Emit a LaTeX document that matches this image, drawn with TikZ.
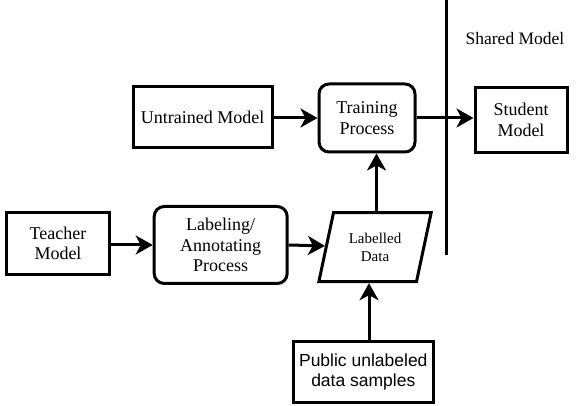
\documentclass[tikz,border=0pt]{standalone}
\usepackage{fontspec}
\setmainfont{Liberation Serif}
\newfontfamily\arialfont{Liberation Sans}
\usetikzlibrary{shapes.geometric,arrows.meta}
\begin{document}
\begin{tikzpicture}[x=1pt,y=-1pt,
  box/.style={draw,line width=3pt,inner sep=0pt,align=center,font=\fontsize{18}{20.5}\selectfont},
  sqbox/.style={box},
  rbox/.style={box,rounded corners=10pt},
  arr/.style={line width=3pt,-{Stealth[length=17pt,width=19pt,inset=5pt]}}
]
\useasboundingbox (0,0) rectangle (582,406);
\node[sqbox,minimum width=139pt,minimum height=61pt] (um) at (202.7,117) {Untrained Model};
\node[rbox,minimum width=96pt,minimum height=68pt] (tp) at (367,118) {Training\\Process};
\node[sqbox,minimum width=92pt,minimum height=65pt] (sm) at (521,119.8) {Student\\Model};
\node[sqbox,minimum width=103pt,minimum height=62pt] (tm) at (58,243.3) {Teacher\\Model};
\node[rbox,minimum width=133pt,minimum height=77pt] (lp) at (220.7,245) {Labeling/\\Annotating\\Process};
\node[draw,line width=3pt,trapezium,trapezium stretches=true,trapezium left angle=72,trapezium right angle=108,
  minimum width=113pt,minimum height=69pt,inner sep=0pt,align=center,font=\fontsize{15}{18}\selectfont] (ld) at (375,247.2) {Labelled\\Data};
\node[sqbox,minimum width=140pt,minimum height=61pt,font=\arialfont\fontsize{17.5}{20}\selectfont] (pu) at (363.3,372.2) {Public unlabeled\\data samples};
\node[font=\fontsize{17.5}{20}\selectfont] (sh) at (515,39) {Shared Model};
\coordinate (vt) at (446,0);
\coordinate (vb) at (446,255);
\draw[line width=3pt] (vt) -- (vb);
\draw[arr] (um.east |- tp.west) -- (tp.west);
\draw[arr] (tp.east) -- (tp.east -| sm.west);
\draw[arr] (tm.east |- lp.west) -- (lp.west);
\draw[arr] (lp.east) -- (ld);
\draw[arr] ([xshift=1.5pt]ld.north) -- ([xshift=1.5pt]ld.north |- tp.south);
\draw[arr] ([xshift=-6pt]ld.south |- pu.north) -- ([xshift=-6pt]ld.south);
\end{tikzpicture}
\end{document}
